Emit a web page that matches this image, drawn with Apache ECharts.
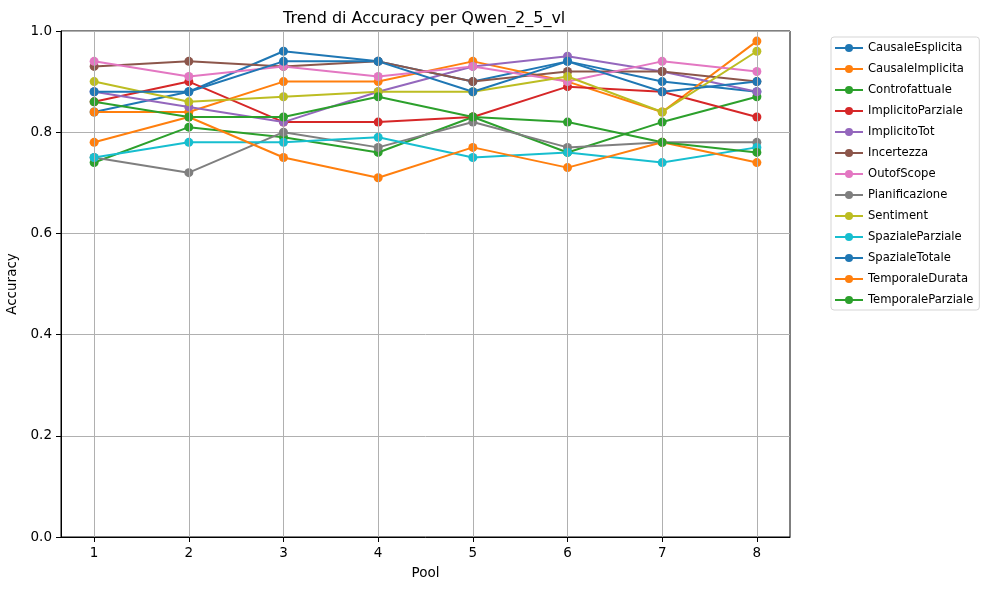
<!DOCTYPE html>
<html>
<head>
<meta charset="utf-8">
<script src="https://cdn.jsdelivr.net/npm/echarts@6/dist/echarts.min.js"></script>
<style>
  html, body { margin: 0; padding: 0; background: #fff; }
  #chart { width: 987px; height: 590px; }
</style>
</head>
<body>
<div id="chart"></div>
<script>
const pools = [1, 2, 3, 4, 5, 6, 7, 8];

const causaleEsplicita = [0.84, 0.88, 0.96, 0.94, 0.90, 0.94, 0.90, 0.88];
const causaleImplicita = [0.84, 0.84, 0.90, 0.90, 0.94, 0.90, 0.84, 0.98];
const controfattuale = [0.74, 0.81, 0.79, 0.76, 0.83, 0.76, 0.82, 0.87];
const implicitoParziale = [0.86, 0.90, 0.82, 0.82, 0.83, 0.89, 0.88, 0.83];
const implicitoTot = [0.88, 0.85, 0.82, 0.88, 0.93, 0.95, 0.92, 0.88];
const incertezza = [0.93, 0.94, 0.93, 0.94, 0.90, 0.92, 0.92, 0.90];
const outofScope = [0.94, 0.91, 0.93, 0.91, 0.93, 0.90, 0.94, 0.92];
const pianificazione = [0.75, 0.72, 0.80, 0.77, 0.82, 0.77, 0.78, 0.78];
const sentiment = [0.90, 0.86, 0.87, 0.88, 0.88, 0.91, 0.84, 0.96];
const spazialeParziale = [0.75, 0.78, 0.78, 0.79, 0.75, 0.76, 0.74, 0.77];
const spazialeTotale = [0.88, 0.88, 0.94, 0.94, 0.88, 0.94, 0.88, 0.90];
const temporaleDurata = [0.78, 0.83, 0.75, 0.71, 0.77, 0.73, 0.78, 0.74];
const temporaleParziale = [0.86, 0.83, 0.83, 0.87, 0.83, 0.82, 0.78, 0.76];

const seriesNames = [
  "CausaleEsplicita", "CausaleImplicita", "Controfattuale", "ImplicitoParziale",
  "ImplicitoTot", "Incertezza", "OutofScope", "Pianificazione", "Sentiment",
  "SpazialeParziale", "SpazialeTotale", "TemporaleDurata", "TemporaleParziale"
];
const seriesValues = [
  causaleEsplicita, causaleImplicita, controfattuale, implicitoParziale,
  implicitoTot, incertezza, outofScope, pianificazione, sentiment,
  spazialeParziale, spazialeTotale, temporaleDurata, temporaleParziale
];

const colors = [
  "#1f77b4", "#ff7f0e", "#2ca02c", "#d62728", "#9467bd", "#8c564b",
  "#e377c2", "#7f7f7f", "#bcbd22", "#17becf", "#1f77b4", "#ff7f0e", "#2ca02c"
];

const font = "DejaVu Sans";
const chart = echarts.init(document.getElementById("chart"));

// vertical grid lines, one per pool, through the x scale
const gridLines = {
  type: "line",
  data: [],
  silent: true,
  z: 1,
  markLine: {
    silent: true,
    symbol: "none",
    label: { show: false },
    lineStyle: { color: "#b0b0b0", width: 1, type: "solid" },
    data: pools.map(p => ({ xAxis: p }))
  }
};

const series = seriesNames.map((name, i) => ({
  name: name,
  type: "line",
  data: pools.map((p, j) => [p, seriesValues[i][j]]),
  symbol: "circle",
  symbolSize: 9,
  color: colors[i],
  lineStyle: { width: 2, color: colors[i] },
  itemStyle: { color: colors[i] },
  z: 3
}));

chart.setOption({
  animation: false,
  backgroundColor: "#fff",
  textStyle: { fontFamily: font },
  title: {
    text: "Trend di Accuracy per Qwen_2_5_vl",
    left: 278,
    top: 6,
    textStyle: { fontFamily: font, fontSize: 16, fontWeight: "normal", color: "#000" }
  },
  grid: {
    left: 61, right: 197, top: 31, bottom: 53,
    outerBoundsMode: "none",
    containLabel: false,
    show: true, borderColor: "#000", borderWidth: 1
  },
  legend: {
    orient: "vertical",
    left: 831,
    top: 37,
    padding: [5, 6, 4, 3],
    itemGap: 9,
    itemWidth: 28,
    itemHeight: 10,
    backgroundColor: "#fff",
    borderColor: "#d5d5d5",
    borderWidth: 1,
    borderRadius: 3,
    textStyle: { fontFamily: font, fontSize: 11.6, color: "#000" },
    data: seriesNames
  },
  xAxis: {
    type: "value",
    min: 0.65,
    max: 8.35,
    name: "Pool",
    nameLocation: "middle",
    nameGap: 29,
    nameTextStyle: { fontFamily: font, fontSize: 13.5, color: "#000" },
    axisLine: { show: true, lineStyle: { color: "#000", width: 1 } },
    axisTick: { show: true, length: 5, lineStyle: { color: "#000" }, customValues: pools },
    axisLabel: { margin: 9, fontSize: 13.5, color: "#000", fontFamily: font, customValues: pools },
    splitLine: { show: false }
  },
  yAxis: {
    type: "value",
    min: 0,
    max: 1,
    interval: 0.2,
    name: "Accuracy",
    nameLocation: "middle",
    nameGap: 38,
    nameTextStyle: { fontFamily: font, fontSize: 13.5, color: "#000" },
    axisLine: { show: true, lineStyle: { color: "#000", width: 1 } },
    axisTick: { show: true, length: 5, lineStyle: { color: "#000" } },
    axisLabel: {
      margin: 9, fontSize: 13.5, color: "#000", fontFamily: font,
      formatter: v => v.toFixed(1)
    },
    splitLine: { show: true, lineStyle: { color: "#b0b0b0", width: 1 } }
  },
  series: [gridLines].concat(series)
});
</script>
</body>
</html>
